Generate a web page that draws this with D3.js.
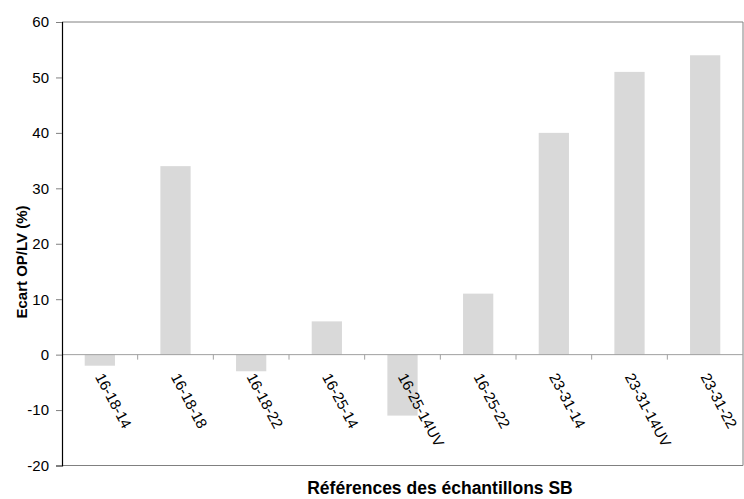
<!DOCTYPE html>
<html><head><meta charset="utf-8">
<script src="https://cdn.jsdelivr.net/npm/d3@7"></script>
<style>body{margin:0;background:#fff}svg{display:block}text{font-family:"Liberation Sans",Arial,sans-serif}</style>
</head><body><svg id="c" width="744" height="499"></svg>
<script>
const categories = ["16-18-14","16-18-18","16-18-22","16-25-14","16-25-14UV","16-25-22","23-31-14","23-31-14UV","23-31-22"];
const values = [-2, 34, -3, 6, -11, 11, 40, 51, 54];
const yTicks = [-20, -10, 0, 10, 20, 30, 40, 50, 60];
const yTitle = "Ecart OP/LV (%)";
const xTitle = "Références des échantillons SB";

const svg = d3.select("#c");
const L = 62, R = 743, T = 22, B = 465.5;
const xb = d3.scaleBand().domain(categories).range([L, R]);
const y = d3.scaleLinear().domain([-20, 60]).range([B, T]);
const barW = xb.bandwidth() * 0.4;

// frame
svg.append("path").attr("d", `M${L},${T}H${R}V${B}H${L}`).attr("fill","none").attr("stroke","#808080").attr("stroke-width",1);

// bars
svg.selectAll("rect.bar").data(values).join("rect").attr("class","bar")
  .attr("x", (d,i)=> xb(categories[i]) + xb.bandwidth()/2 - barW/2)
  .attr("width", barW)
  .attr("y", d=> y(Math.max(0,d)))
  .attr("height", d=> Math.abs(y(d)-y(0)))
  .attr("fill", "#d9d9d9");

// zero line + category ticks
svg.append("line").attr("x1",L).attr("x2",R).attr("y1",y(0)).attr("y2",y(0)).attr("stroke","#a0a0a0");
svg.selectAll("line.ct").data(categories.slice(1)).join("line").attr("class","ct")
  .attr("x1", d=>xb(d)).attr("x2", d=>xb(d)).attr("y1", y(0)).attr("y2", y(0)+5).attr("stroke","#a0a0a0");

// y axis
const ya = d3.axisLeft(y).tickValues(yTicks).tickSize(6).tickPadding(7).tickFormat(d=>String(d));
const g = svg.append("g").attr("transform",`translate(${L},0)`).call(ya);
g.select(".domain").attr("stroke","#000").attr("stroke-width",1.2);
g.selectAll(".tick line").attr("stroke","#808080");
g.selectAll(".tick text").attr("font-size",15).attr("fill","#000").attr("font-family","Liberation Sans, Arial, sans-serif");

// category labels
svg.selectAll("text.cl").data(categories).join("text").attr("class","cl")
  .attr("transform", d=>`translate(${xb(d)+xb.bandwidth()/2-5},${y(0)+22}) rotate(62)`)
  .attr("font-size",15).attr("fill","#000").text(d=>d);

// titles
svg.append("text").attr("x", 440).attr("y", 494).attr("text-anchor","middle")
  .attr("font-size",17.5).attr("font-weight","bold").text(xTitle);
svg.append("text").attr("transform", `translate(27,262) rotate(-90)`).attr("text-anchor","middle")
  .attr("font-size",15).attr("font-weight","bold").text(yTitle);
</script></body></html>
